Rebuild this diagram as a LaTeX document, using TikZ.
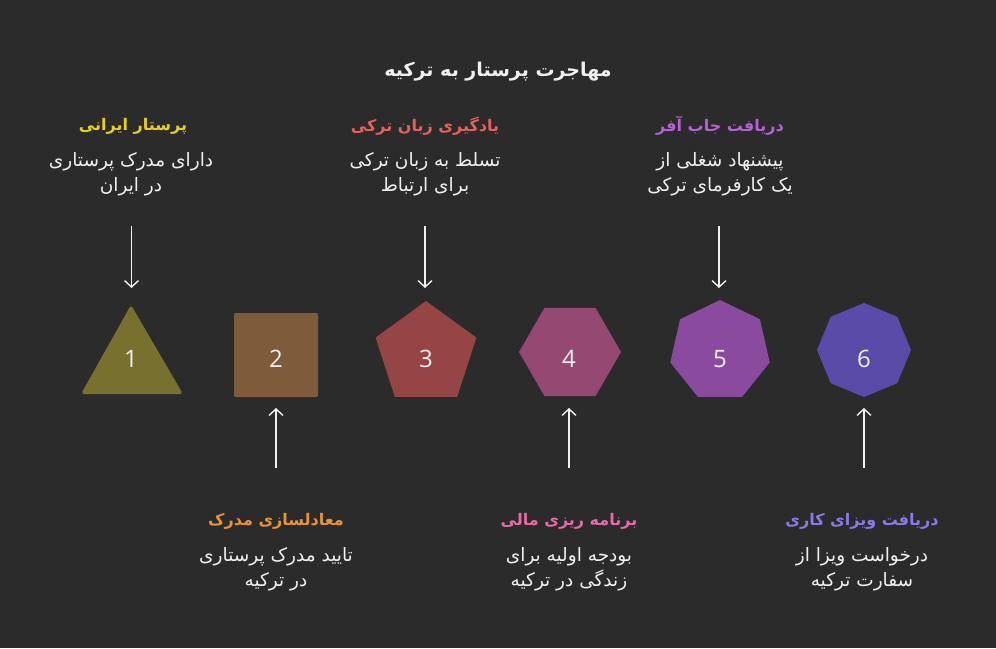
\documentclass[tikz,border=0pt]{standalone}
\usepackage{fontspec}
\TeXXeTstate=1
\newfontfamily\arabicfont[Script=Arabic]{DejaVu Sans}
\newfontfamily\numfont{Open Sans}
\setmainfont{DejaVu Sans}
\newcommand{\RLtext}[1]{\beginR #1\endR}
\definecolor{bgc}{HTML}{2B2B2B}
\definecolor{c1}{HTML}{77702F}
\definecolor{c2}{HTML}{7E5B39}
\definecolor{c3}{HTML}{964545}
\definecolor{c4}{HTML}{954872}
\definecolor{c5}{HTML}{8A4B9F}
\definecolor{c6}{HTML}{5B4BA8}
\definecolor{h1}{HTML}{E8D020}
\definecolor{h2}{HTML}{E8923A}
\definecolor{h3}{HTML}{E8605A}
\definecolor{h4}{HTML}{E868A8}
\definecolor{h5}{HTML}{B860D8}
\definecolor{h6}{HTML}{8C78E8}
\definecolor{txt}{HTML}{F0F0F0}
\usetikzlibrary{arrows.meta}
\begin{document}
\begin{tikzpicture}[x=1pt,y=-1pt,
  heading/.style={font=\arabicfont\bfseries\fontsize{16}{19}\selectfont, inner sep=0pt, anchor=center},
  desc/.style={font=\arabicfont\fontsize{18.5}{25}\selectfont, text=txt, align=center, inner sep=0pt, anchor=center},
  numlabel/.style={font=\numfont\fontsize{24}{28}\selectfont, text=txt, inner sep=0pt},
  conn/.style={draw=txt, line width=1.4pt, -{Straight Barb[length=6.5pt,width=14pt]}}]
\fill[bgc] (0,0) rectangle (996,648);
\useasboundingbox (0,0) rectangle (996,648);
% title
\node[font=\arabicfont\bfseries\fontsize{19}{23}\selectfont, text=txt] (title) at (498,72) {\RLtext{مهاجرت پرستار به ترکیه}};
% shapes
\fill[c1, rounded corners=3pt] (131,305) -- (183,394) -- (81,394) -- cycle;
\fill[c2, rounded corners=1.5pt] (234,313) rectangle (318,397);
\fill[c3] (426,301) \foreach \k in {1,...,4} { -- ({426+53*cos(-90+72*\k)},{354+53*sin(-90+72*\k)}) } -- cycle;
\fill[c4] (621,352) \foreach \k in {1,...,5} { -- ({570+51*cos(60*\k)},{352+51*sin(60*\k)}) } -- cycle;
\fill[c5] (720,300) \foreach \k in {1,...,6} { -- ({720+51*cos(-90+360/7*\k)},{351+51*sin(-90+360/7*\k)}) } -- cycle;
\fill[c6] (864,303) \foreach \k in {1,...,7} { -- ({864+47*cos(-90+45*\k)},{350+47*sin(-90+45*\k)}) } -- cycle;
% number labels
\node[numlabel] (s1) at (131,359) {1};
\node[numlabel] (s2) at (276,359) {2};
\node[numlabel] (s3) at (426,359) {3};
\node[numlabel] (s4) at (569,359) {4};
\node[numlabel] (s5) at (720,359) {5};
\node[numlabel] (s6) at (864,359) {6};
% top texts
\node[heading, text=h1] (t1) at (133,126) {\RLtext{پرستار ایرانی}};
\node[desc] (d1) at (131,174) {\RLtext{دارای مدرک پرستاری}\\\RLtext{در ایران}};
\node[heading, text=h3] (t3) at (425,126) {\RLtext{یادگیری زبان ترکی}};
\node[desc] (d3) at (425,174) {\RLtext{تسلط به زبان ترکی}\\\RLtext{برای ارتباط}};
\node[heading, text=h5] (t5) at (720,126) {\RLtext{دریافت جاب آفر}};
\node[desc] (d5) at (720,174) {\RLtext{پیشنهاد شغلی از}\\\RLtext{یک کارفرمای ترکی}};
% bottom texts
\node[heading, text=h2] (t2) at (276,521) {\RLtext{معادلسازی مدرک}};
\node[desc] (d2) at (276,569) {\RLtext{تایید مدرک پرستاری}\\\RLtext{در ترکیه}};
\node[heading, text=h4] (t4) at (569,521) {\RLtext{برنامه ریزی مالی}};
\node[desc] (d4) at (569,569) {\RLtext{بودجه اولیه برای}\\\RLtext{زندگی در ترکیه}};
\node[heading, text=h6] (t6) at (862,521) {\RLtext{دریافت ویزای کاری}};
\node[desc] (d6) at (862,569) {\RLtext{درخواست ویزا از}\\\RLtext{سفارت ترکیه}};
% connector ends
\coordinate (a1s) at (131.5,226); \coordinate (a1e) at (131.5,288);
\coordinate (a3s) at (425,226); \coordinate (a3e) at (425,288);
\coordinate (a5s) at (719,226); \coordinate (a5e) at (719,288);
\coordinate (a2s) at (276,468); \coordinate (a2e) at (276,408);
\coordinate (a4s) at (569,468); \coordinate (a4e) at (569,408);
\coordinate (a6s) at (864,468); \coordinate (a6e) at (864,408);
\draw[conn] (a1s) -- (a1e);
\draw[conn] (a3s) -- (a3e);
\draw[conn] (a5s) -- (a5e);
\draw[conn] (a2s) -- (a2e);
\draw[conn] (a4s) -- (a4e);
\draw[conn] (a6s) -- (a6e);
\end{tikzpicture}
\end{document}
